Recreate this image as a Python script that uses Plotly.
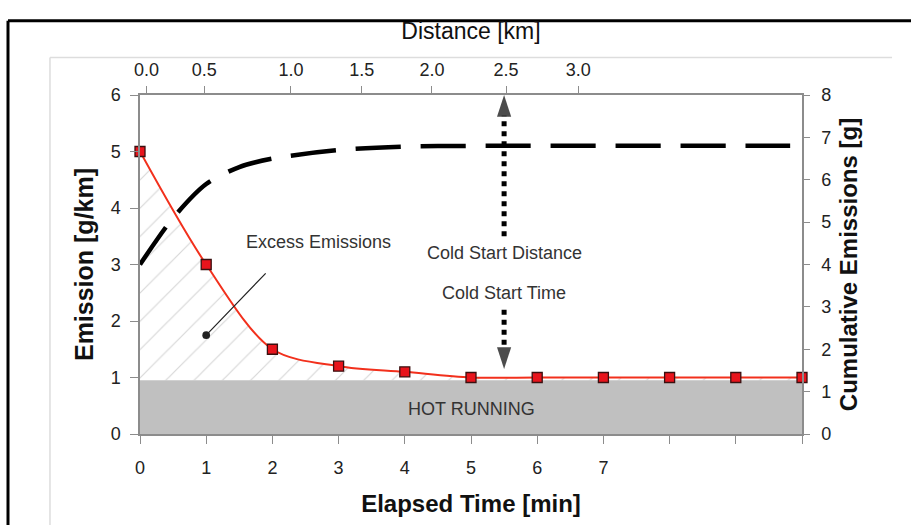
import plotly.graph_objects as go

# ---- data ----
time_min = [0, 1, 2, 3, 4, 5, 6, 7, 8, 9, 10]
emission_gkm = [5.0, 3.0, 1.5, 1.2, 1.1, 1.0, 1.0, 1.0, 1.0, 1.0, 1.0]
hot_running_level = 0.95

cum_time_min = [0, 0.5, 1, 1.5, 2, 3, 4, 5, 6, 7, 8, 9, 10]
cum_emission_g = [4.0, 5.1, 5.9, 6.3, 6.5, 6.7, 6.78, 6.8, 6.8, 6.8, 6.8, 6.8, 6.8]

time_tick_vals = [0, 1, 2, 3, 4, 5, 6, 7, 8, 9, 10]
time_tick_text = ["0", "1", "2", "3", "4", "5", "6", "7", "", "", ""]
distance_tick_text = ["0.0", "0.5", "1.0", "1.5", "2.0", "2.5", "3.0"]
distance_tick_at_min = [0.1, 0.97, 2.28, 3.35, 4.41, 5.53, 6.62]

cold_start_time = 5.5

FONT = "Liberation Sans, Arial, sans-serif"
AX = "#8c8c8c"
TXT = "#222222"

fig = go.Figure()

# hot running band
fig.add_trace(go.Scatter(
    x=[time_min[0], time_min[-1]], y=[hot_running_level, hot_running_level],
    mode="lines", line=dict(width=0), fill="tozeroy", fillcolor="#c0c0c0",
    hoverinfo="skip"))

# hatched excess emissions
fig.add_trace(go.Scatter(
    x=time_min, y=emission_gkm, mode="lines",
    line=dict(width=0, shape="spline", smoothing=0.9),
    fill="tonexty", fillcolor="rgba(0,0,0,0)",
    fillpattern=dict(shape="/", fgcolor="#b0b0b0", bgcolor="rgba(255,255,255,0)",
                     size=20, solidity=0.06),
    hoverinfo="skip"))

# cumulative emissions (dashed)
fig.add_trace(go.Scatter(
    x=cum_time_min, y=cum_emission_g, yaxis="y2", mode="lines",
    line=dict(color="black", width=4.5, dash="45px,20px", shape="spline", smoothing=0.8)))

# emission curve
fig.add_trace(go.Scatter(
    x=time_min, y=emission_gkm, mode="lines+markers", cliponaxis=False,
    line=dict(color="#f2301c", width=2, shape="spline", smoothing=0.9),
    marker=dict(symbol="square", size=10, color="#e8141c",
                line=dict(color="#3a1010", width=1.3))))

# invisible trace to activate the distance axis on top
fig.add_trace(go.Scatter(
    x=time_min, y=emission_gkm, xaxis="x2", mode="markers",
    marker=dict(opacity=0), hoverinfo="skip"))

# cold start dotted arrows
fig.add_trace(go.Scatter(
    x=[cold_start_time, cold_start_time], y=[3.5, 6.0], mode="lines+markers",
    cliponaxis=False,
    line=dict(color="black", width=5, dash="dot"),
    marker=dict(symbol="arrow", angleref="previous", size=[0, 23], color="black",
                line=dict(width=0))))
fig.add_trace(go.Scatter(
    x=[cold_start_time, cold_start_time], y=[2.2, 1.15], mode="lines+markers",
    cliponaxis=False,
    line=dict(color="black", width=5, dash="dot"),
    marker=dict(symbol="arrow", angleref="previous", size=[0, 23], color="black",
                line=dict(width=0))))

fig.update_layout(
    width=911, height=525,
    margin=dict(l=140, r=109, t=95, b=87),
    plot_bgcolor="white", paper_bgcolor="white",
    showlegend=False,
    font=dict(family=FONT, color=TXT, size=18),
    xaxis=dict(
        range=[0, 10], tickmode="array", tickvals=time_tick_vals, ticktext=time_tick_text,
        ticks="outside", ticklen=8, tickcolor=AX, tickwidth=1.3,
        showline=True, linecolor=AX, linewidth=1.5, showgrid=False, zeroline=False,
        ticklabelstandoff=9,
        tickfont=dict(size=18, color=TXT),
        title=dict(text="<b>Elapsed Time [min]</b>", font=dict(size=24, color="#111"), standoff=18),
    ),
    xaxis2=dict(
        overlaying="x", side="top", anchor="y", range=[0, 10],
        tickmode="array", tickvals=distance_tick_at_min, ticktext=distance_tick_text,
        ticks="outside", ticklen=7, tickcolor=AX, tickwidth=1.3,
        showline=True, linecolor=AX, linewidth=1.5, showgrid=False, zeroline=False,
        ticklabelstandoff=3,
        tickfont=dict(size=18, color=TXT),
        title=dict(text="Distance [km]", font=dict(size=23, color="#111"), standoff=14),
    ),
    yaxis=dict(
        range=[0, 6], dtick=1, ticks="outside", ticklen=8, tickcolor=AX, tickwidth=1.3,
        showline=True, linecolor=AX, linewidth=1.5, showgrid=False, zeroline=False,
        ticklabelstandoff=6,
        tickfont=dict(size=18, color=TXT),
        title=dict(text="<b>Emission [g/km]</b>", font=dict(size=25, color="#111"), standoff=10),
    ),
    yaxis2=dict(
        overlaying="y", side="right", anchor="x", range=[0, 8], dtick=1,
        ticks="outside", ticklen=6, tickcolor=AX, tickwidth=1.3,
        showline=True, linecolor=AX, linewidth=1.5, showgrid=False, zeroline=False,
        ticklabelstandoff=8,
        tickfont=dict(size=18, color=TXT),
        title=dict(text="<b>Cumulative Emissions [g]</b>", font=dict(size=24, color="#111"), standoff=10),
    ),
    yaxis3=dict(
        overlaying="y", side="right", anchor="x", range=[0, 8], dtick=1,
        ticks="inside", ticklen=7, tickcolor=AX, tickwidth=1.3,
        showticklabels=False, showline=False, showgrid=False, zeroline=False,
    ),
)

# annotations
fig.add_annotation(x=2.69, y=3.39, text="Excess Emissions", showarrow=False,
                   font=dict(size=18, color="#333"))
fig.add_annotation(x=1.0, y=1.75, ax=1.92, ay=2.87, axref="x", ayref="y", text="",
                   showarrow=True, arrowhead=6, arrowsize=1.6, arrowwidth=1.2, arrowcolor="#222")
fig.add_annotation(x=cold_start_time, y=3.2, text="Cold Start Distance", showarrow=False,
                   font=dict(size=18, color="#333"))
fig.add_annotation(x=cold_start_time, y=2.5, text="Cold Start Time", showarrow=False,
                   font=dict(size=18, color="#333"))
fig.add_annotation(x=5.0, y=0.44, text="HOT RUNNING", showarrow=False,
                   font=dict(size=18, color="#333"))

# outer frames
fig.add_shape(type="line", xref="paper", yref="paper", x0=-0.1994, x1=-0.1994, y0=-0.3, y1=1.2187,
              line=dict(color="black", width=3))
fig.add_shape(type="line", xref="paper", yref="paper", x0=-0.1994, x1=1.2, y0=1.2187, y1=1.2187,
              line=dict(color="black", width=3))
fig.add_shape(type="line", xref="paper", yref="paper", x0=-0.136, x1=-0.136, y0=-0.3, y1=1.1108,
              line=dict(color="#dddddd", width=1.5))
fig.add_shape(type="line", xref="paper", yref="paper", x0=-0.136, x1=1.136, y0=1.1108, y1=1.1108,
              line=dict(color="#dddddd", width=1.5))

fig.write_html("out.html")
